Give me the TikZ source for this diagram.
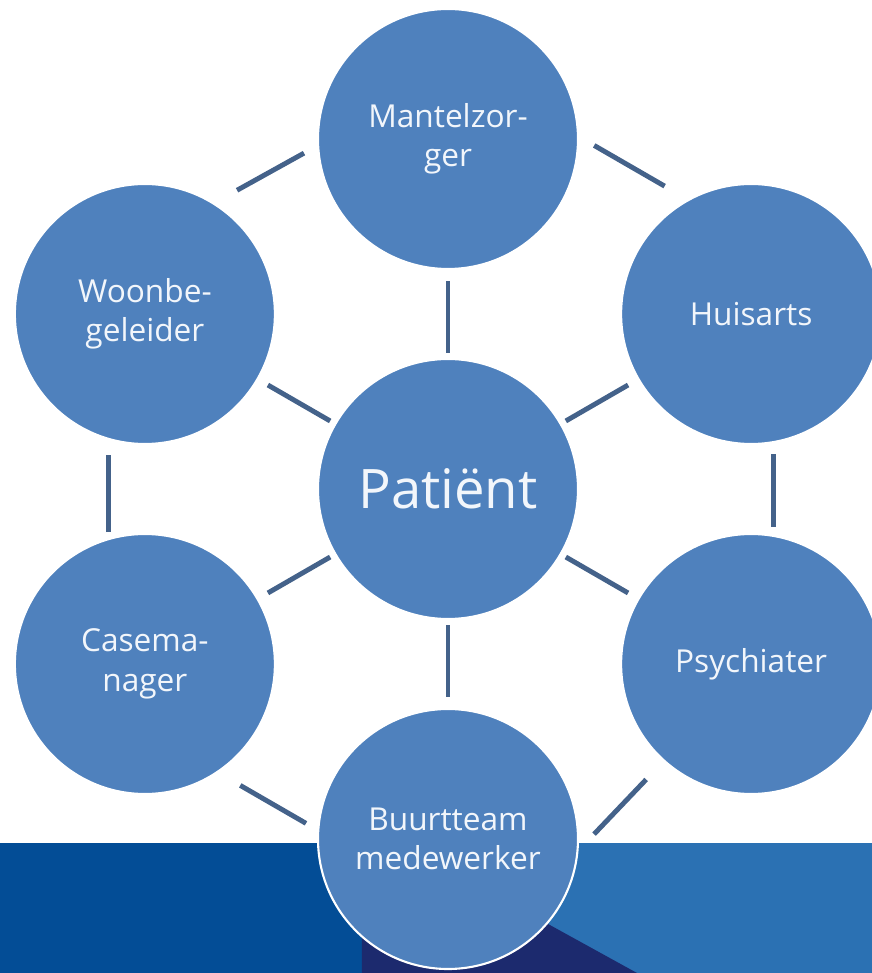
\documentclass[tikz,border=0pt]{standalone}
\usepackage{fontspec}
\setmainfont{Open Sans}
\usepackage{tikz}
\usetikzlibrary{positioning}
\definecolor{rolefill}{HTML}{4F81BD}
\definecolor{roleline}{HTML}{44628A}
\definecolor{banddark}{HTML}{034D96}
\definecolor{bandlight}{HTML}{2B71B3}
\definecolor{bandnavy}{HTML}{1C2A6E}
\definecolor{roletext}{HTML}{F2F6FB}

\begin{document}
\begin{tikzpicture}[
    role/.style={circle, draw=white, line width=1.2pt, fill=rolefill, minimum size=5.2cm,
                 inner sep=0pt, font=\fontsize{18}{22.5}\selectfont, text=roletext, align=center},
    hub/.style={role, font=\fontsize{31}{36}\selectfont},
    spoke/.style={roleline, line width=2.8pt, shorten <=0.1cm, shorten >=0.22cm},
    ring/.style={roleline, line width=2.8pt},
]
\useasboundingbox (-8.96,-9.68) rectangle (8.48,9.78);
\fill[banddark] (-8.96,-9.68) rectangle (0,-7.08);
\fill[bandlight] (0,-9.68) rectangle (8.48,-7.08);
\fill[bandnavy] (-1.72,-9.68) -- (-1.72,-7.62) -- (0.44,-7.84) -- (3.78,-9.68) -- cycle;
\node[hub] (patient) at (0,0) {Patiënt};
\node[role] (mantel) at (90:7) {Mantelzor-\\ger};
\node[role] (huisarts) at (30:7) {Huisarts};
\node[role] (psych) at (-30:7) {Psychiater};
\node[role] (buurt) at (-90:7) {Buurtteam\\medewerker};
\node[role] (casem) at (-150:7) {Casema-\\nager};
\node[role] (woon) at (150:7) {Woonbe-\\geleider};
\foreach \n in {mantel, huisarts, psych, buurt, casem, woon}
  \draw[spoke] (patient) -- (\n);
\draw[ring, shorten <=0.35cm, shorten >=0.53cm] (mantel.1) -- (huisarts.119);
\draw[ring, shorten <=0.22cm, shorten >=0.16cm] (huisarts.-80) -- (psych.80);
\draw[ring, shorten <=0.45cm, shorten >=0.5cm] (buurt.-5) -- (psych.-132);
\draw[ring, shorten <=0.26cm, shorten >=0.51cm] (buurt.176) -- (casem.-56);
\draw[ring, shorten <=0.12cm, shorten >=0.3cm] (casem.106) -- (woon.-106);
\draw[ring, shorten <=0.52cm, shorten >=0.3cm] (woon.58) -- (mantel.183);
\end{tikzpicture}
\end{document}
